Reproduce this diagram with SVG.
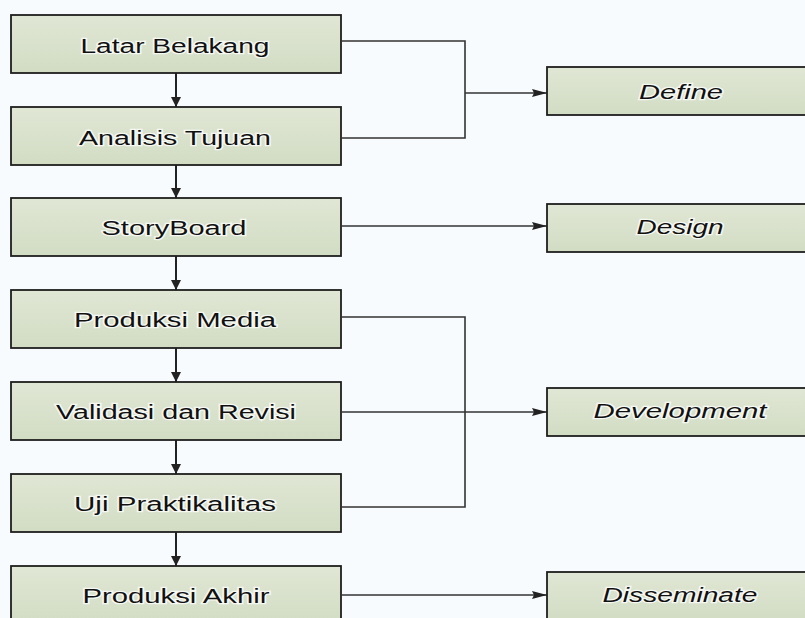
<svg xmlns="http://www.w3.org/2000/svg" width="805" height="618" viewBox="0 0 805 618">
  <defs>
    <linearGradient id="boxFill" x1="0" y1="0" x2="0" y2="1">
      <stop offset="0" stop-color="#e0e7d5"/>
      <stop offset="1" stop-color="#d2dcc3"/>
    </linearGradient>
    <marker id="arrDown" viewBox="0 0 10 10" refX="10" refY="5" markerWidth="10" markerHeight="10" markerUnits="userSpaceOnUse" orient="auto">
      <path d="M0,0 L10,5 L0,10 Z" fill="#222"/>
    </marker>
    <marker id="arrRight" viewBox="0 0 15 8" refX="15" refY="4" markerWidth="15" markerHeight="8" markerUnits="userSpaceOnUse" orient="auto">
      <path d="M0,0 L15,4 L0,8 L2,4 Z" fill="#222"/>
    </marker>
  </defs>
  <style>
    .box { fill: url(#boxFill); stroke: #1e1e1e; stroke-width: 1.8; }
    .lbl { font-family: "Liberation Sans", Arial, sans-serif; font-size: 20px; fill: #111; text-anchor: middle; stroke: #ffffff; stroke-width: 2.5; stroke-opacity: 0.75; paint-order: stroke; }
    .ital { font-style: italic; }
    .down { fill: none; stroke: #222; stroke-width: 2; marker-end: url(#arrDown); }
    .line { fill: none; stroke: #333; stroke-width: 1.6; }
    .arrow { fill: none; stroke: #333; stroke-width: 1.6; marker-end: url(#arrRight); }
  </style>
  <rect x="0" y="0" width="805" height="618" fill="#f8fbfd"/>

  <g id="connectors">
    <path class="down" d="M176,73 V107"/>
    <path class="down" d="M176,165 V198"/>
    <path class="down" d="M176,256 V290"/>
    <path class="down" d="M176,348 V382"/>
    <path class="down" d="M176,440 V474"/>
    <path class="down" d="M176,532 V566"/>
    <path class="line" d="M342,41 H465 V138 H342"/>
    <path class="arrow" d="M465,93 H547"/>
    <path class="arrow" d="M342,226 H547"/>
    <path class="line" d="M342,317 H465 V507 H342"/>
    <path class="arrow" d="M342,412 H547"/>
    <path class="arrow" d="M342,595 H547"/>
  </g>

  <g id="latar-belakang">
    <rect class="box" x="11" y="15" width="330" height="58"/>
    <text class="lbl" x="175" y="52.5" textLength="189" lengthAdjust="spacingAndGlyphs">Latar Belakang</text>
  </g>
  <g id="analisis-tujuan">
    <rect class="box" x="11" y="107" width="330" height="58"/>
    <text class="lbl" x="175" y="144.5" textLength="192" lengthAdjust="spacingAndGlyphs">Analisis Tujuan</text>
  </g>
  <g id="storyboard">
    <rect class="box" x="11" y="198" width="330" height="58"/>
    <text class="lbl" x="174" y="234.5" textLength="145" lengthAdjust="spacingAndGlyphs">StoryBoard</text>
  </g>
  <g id="produksi-media">
    <rect class="box" x="11" y="290" width="330" height="58"/>
    <text class="lbl" x="175" y="327" textLength="202" lengthAdjust="spacingAndGlyphs">Produksi Media</text>
  </g>
  <g id="validasi-revisi">
    <rect class="box" x="11" y="382" width="330" height="58"/>
    <text class="lbl" x="176" y="419" textLength="240" lengthAdjust="spacingAndGlyphs">Validasi dan Revisi</text>
  </g>
  <g id="uji-praktikalitas">
    <rect class="box" x="11" y="474" width="330" height="58"/>
    <text class="lbl" x="175" y="511" textLength="202" lengthAdjust="spacingAndGlyphs">Uji Praktikalitas</text>
  </g>
  <g id="produksi-akhir">
    <rect class="box" x="11" y="566" width="330" height="58"/>
    <text class="lbl" x="176" y="603" textLength="187" lengthAdjust="spacingAndGlyphs">Produksi Akhir</text>
  </g>

  <g id="define">
    <rect class="box" x="547" y="67" width="270" height="48"/>
    <text class="lbl ital" x="681" y="98.5" textLength="84" lengthAdjust="spacingAndGlyphs">Define</text>
  </g>
  <g id="design">
    <rect class="box" x="547" y="204" width="270" height="48"/>
    <text class="lbl ital" x="680" y="234" textLength="87" lengthAdjust="spacingAndGlyphs">Design</text>
  </g>
  <g id="development">
    <rect class="box" x="547" y="388" width="270" height="48"/>
    <text class="lbl ital" x="680" y="418" textLength="173" lengthAdjust="spacingAndGlyphs">Development</text>
  </g>
  <g id="disseminate">
    <rect class="box" x="547" y="572" width="270" height="48"/>
    <text class="lbl ital" x="680" y="602" textLength="155" lengthAdjust="spacingAndGlyphs">Disseminate</text>
  </g>
</svg>
